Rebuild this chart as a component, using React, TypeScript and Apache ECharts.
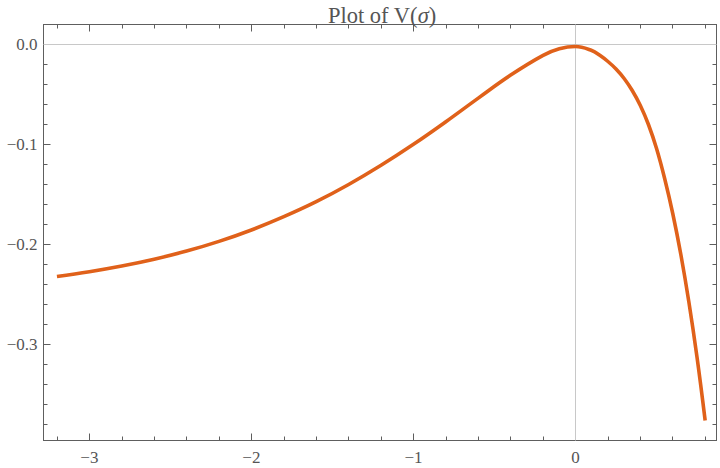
import React, { useEffect, useRef } from "react";
import * as echarts from "echarts";

const sigma = [-3.2, -3.0, -2.8, -2.6, -2.4, -2.2, -2.0, -1.8, -1.6, -1.4, -1.2, -1.0, -0.8, -0.6, -0.4, -0.2, -0.1, 0, 0.1, 0.15, 0.2, 0.25, 0.3, 0.35, 0.4, 0.45, 0.5, 0.55, 0.6, 0.65, 0.7, 0.75, 0.8];
const V = [-0.232, -0.2272, -0.2215, -0.2147, -0.2066, -0.1969, -0.1855, -0.1722, -0.1572, -0.14, -0.1208, -0.0998, -0.0772, -0.0536, -0.0306, -0.0109, -0.0043, -0.002, -0.006, -0.0108, -0.017, -0.0245, -0.034, -0.046, -0.061, -0.08, -0.104, -0.134, -0.169, -0.21, -0.258, -0.313, -0.376];

const xMajorTicks = [-3, -2, -1, 0];
const xMinorTicks = [-3.2, -2.8, -2.6, -2.4, -2.2, -1.8, -1.6, -1.4, -1.2, -0.8, -0.6, -0.4, -0.2, 0.2, 0.4, 0.6, 0.8];
const yMajorTicks = [0, -0.1, -0.2, -0.3];
const yMinorTicks = [-0.02, -0.04, -0.06, -0.08, -0.12, -0.14, -0.16, -0.18, -0.22, -0.24, -0.26, -0.28, -0.32, -0.34, -0.36, -0.38];

const X_MIN = -3.283;
const X_MAX = 0.87;
const Y_MIN = -0.396;
const Y_MAX = 0.02;

const FRAME = "#5e5e5e";
const LABEL = "#555555";
const FONT = "'Liberation Serif', 'DejaVu Serif', serif";

const fmtMinus = (v: number, d: number) => (v < -1e-9 ? "\u2212" : "") + Math.abs(v).toFixed(d);

export default function App() {
  const ref = useRef<HTMLDivElement>(null);
  useEffect(() => {
    document.body.style.margin = "0";
    if (!ref.current) return;
    const chart = echarts.init(ref.current, undefined, { renderer: "svg" });

    const xAxisBase = (position: "top" | "bottom", values: number[], len: number, showLine: boolean, showLabel: boolean) => ({
      type: "value",
      position,
      min: X_MIN,
      max: X_MAX,
      axisLine: { show: showLine, onZero: false, lineStyle: { color: FRAME, width: 1 } },
      axisTick: { show: true, inside: true, length: len, customValues: values, lineStyle: { color: FRAME, width: 1 } },
      axisLabel: showLabel
        ? { show: true, customValues: values, margin: 8, color: LABEL, fontFamily: FONT, fontSize: 17, formatter: (v: number) => fmtMinus(v, 0) }
        : { show: false },
      splitLine: { show: false },
    });
    const yAxisBase = (position: "left" | "right", values: number[], len: number, showLine: boolean, showLabel: boolean) => ({
      type: "value",
      position,
      min: Y_MIN,
      max: Y_MAX,
      axisLine: { show: showLine, onZero: false, lineStyle: { color: FRAME, width: 1 } },
      axisTick: { show: true, inside: true, length: len, customValues: values, lineStyle: { color: FRAME, width: 1 } },
      axisLabel: showLabel
        ? { show: true, customValues: values, margin: 6, color: LABEL, fontFamily: FONT, fontSize: 17, formatter: (v: number) => fmtMinus(v, 1) }
        : { show: false },
      splitLine: { show: false },
    });

    chart.setOption({
      animation: false,
      backgroundColor: "#ffffff",
      title: {
        text: "{a|Plot of V(}{b|\u03c3}{a|)}",
        left: 377,
        textAlign: "center",
        top: -1,
        textStyle: {
          fontWeight: "normal",
          rich: {
            a: { fontFamily: FONT, fontSize: 22.5, fontWeight: "normal", color: LABEL },
            b: { fontFamily: FONT, fontSize: 22.5, fontWeight: "normal", color: LABEL, fontStyle: "italic" },
          },
        },
      },
      grid: { left: 43.5, right: 3.5, top: 24.5, bottom: 27.5, containLabel: false },
      xAxis: [
        xAxisBase("bottom", xMajorTicks, 7, true, true),
        xAxisBase("bottom", xMinorTicks, 4, false, false),
        xAxisBase("top", xMajorTicks, 7, true, false),
        xAxisBase("top", xMinorTicks, 4, false, false),
      ],
      yAxis: [
        yAxisBase("left", yMajorTicks, 7, true, true),
        yAxisBase("left", yMinorTicks, 4, false, false),
        yAxisBase("right", yMajorTicks, 7, true, false),
        yAxisBase("right", yMinorTicks, 4, false, false),
      ],
      series: [
        {
          type: "line",
          xAxisIndex: 0,
          yAxisIndex: 0,
          data: sigma.map((s, i) => [s, V[i]]),
          smooth: 0.4,
          showSymbol: false,
          symbol: "none",
          lineStyle: { color: "#E0611A", width: 3.6, cap: "butt" },
          markLine: {
            silent: true,
            symbol: "none",
            label: { show: false },
            lineStyle: { color: "#c8c8c8", width: 1, type: "solid" },
            data: [{ xAxis: 0 }, { yAxis: 0 }],
            z: 1,
          },
          z: 3,
        },
      ],
    });
    return () => chart.dispose();
  }, []);
  return <div ref={ref} style={{ width: 720, height: 468 }} />;
}
